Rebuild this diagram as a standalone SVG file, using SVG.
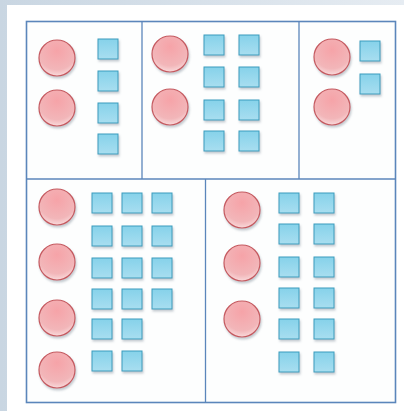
<svg xmlns="http://www.w3.org/2000/svg" width="404" height="411" viewBox="0 0 404 411">
<defs>
<linearGradient id="bg" x1="0" y1="0" x2="1" y2="0">
<stop offset="0" stop-color="#c9d6e2"/><stop offset="1" stop-color="#e6ecf2"/>
</linearGradient>
<radialGradient id="cg" cx="0.5" cy="0.3" r="0.75">
<stop offset="0" stop-color="#f6a3a8"/><stop offset="0.7" stop-color="#f2b6b9"/><stop offset="1" stop-color="#fbe4e5"/>
</radialGradient>
<linearGradient id="sg" x1="0" y1="0" x2="0" y2="1">
<stop offset="0" stop-color="#86d2ea"/><stop offset="1" stop-color="#a8def0"/>
</linearGradient>
<filter id="sh" x="-30%" y="-30%" width="170%" height="170%">
<feDropShadow dx="1" dy="2" stdDeviation="1.2" flood-color="#7a8a96" flood-opacity="0.45"/>
</filter>
</defs>
<style>
.c{fill:url(#cg);stroke:#c55a60;stroke-width:1.2;filter:url(#sh)}
.s{fill:url(#sg);stroke:#3b9cbd;stroke-width:1;filter:url(#sh)}
.frame{fill:#fdfefe;stroke:#5b86bb;stroke-width:1.6}
.div{stroke:#5b86bb;stroke-width:1.3;fill:none}
</style>
<rect x="0" y="0" width="404" height="411" fill="url(#bg)"/>
<rect x="7" y="5" width="397" height="406" fill="#ffffff"/>
<rect class="frame" x="26.5" y="21.5" width="369" height="381"/>
<g id="connectors">
<line class="div" x1="26.5" y1="179" x2="395.5" y2="179"/>
<line class="div" x1="142" y1="21.5" x2="142" y2="179"/>
<line class="div" x1="299" y1="21.5" x2="299" y2="179"/>
<line class="div" x1="205.5" y1="179" x2="205.5" y2="402.5"/>
</g>
<g id="cell1">
<circle class="c" cx="57" cy="58" r="18"/>
<circle class="c" cx="57" cy="108" r="18"/>
<rect class="s" x="98" y="39" width="20" height="20"/>
<rect class="s" x="98" y="71" width="20" height="20"/>
<rect class="s" x="98" y="103" width="20" height="20"/>
<rect class="s" x="98" y="134" width="20" height="20"/>
</g>
<g id="cell2">
<circle class="c" cx="170" cy="54" r="18"/>
<circle class="c" cx="170" cy="107" r="18"/>
<rect class="s" x="204" y="35" width="20" height="20"/>
<rect class="s" x="239" y="35" width="20" height="20"/>
<rect class="s" x="204" y="67" width="20" height="20"/>
<rect class="s" x="239" y="67" width="20" height="20"/>
<rect class="s" x="204" y="100" width="20" height="20"/>
<rect class="s" x="239" y="100" width="20" height="20"/>
<rect class="s" x="204" y="131" width="20" height="20"/>
<rect class="s" x="239" y="131" width="20" height="20"/>
</g>
<g id="cell3">
<circle class="c" cx="332" cy="57" r="18"/>
<circle class="c" cx="332" cy="107" r="18"/>
<rect class="s" x="360" y="41" width="20" height="20"/>
<rect class="s" x="360" y="74" width="20" height="20"/>
</g>
<g id="cell4">
<circle class="c" cx="57" cy="207" r="18"/>
<circle class="c" cx="57" cy="262" r="18"/>
<circle class="c" cx="57" cy="318" r="18"/>
<circle class="c" cx="57" cy="370" r="18"/>
<rect class="s" x="92" y="193" width="20" height="20"/>
<rect class="s" x="122" y="193" width="20" height="20"/>
<rect class="s" x="152" y="193" width="20" height="20"/>
<rect class="s" x="92" y="226" width="20" height="20"/>
<rect class="s" x="122" y="226" width="20" height="20"/>
<rect class="s" x="152" y="226" width="20" height="20"/>
<rect class="s" x="92" y="258" width="20" height="20"/>
<rect class="s" x="122" y="258" width="20" height="20"/>
<rect class="s" x="152" y="258" width="20" height="20"/>
<rect class="s" x="92" y="289" width="20" height="20"/>
<rect class="s" x="122" y="289" width="20" height="20"/>
<rect class="s" x="152" y="289" width="20" height="20"/>
<rect class="s" x="92" y="319" width="20" height="20"/>
<rect class="s" x="122" y="319" width="20" height="20"/>
<rect class="s" x="92" y="351" width="20" height="20"/>
<rect class="s" x="122" y="351" width="20" height="20"/>
</g>
<g id="cell5">
<circle class="c" cx="242" cy="210" r="18"/>
<circle class="c" cx="242" cy="263" r="18"/>
<circle class="c" cx="242" cy="319" r="18"/>
<rect class="s" x="279" y="193" width="20" height="20"/>
<rect class="s" x="314" y="193" width="20" height="20"/>
<rect class="s" x="279" y="224" width="20" height="20"/>
<rect class="s" x="314" y="224" width="20" height="20"/>
<rect class="s" x="279" y="257" width="20" height="20"/>
<rect class="s" x="314" y="257" width="20" height="20"/>
<rect class="s" x="279" y="288" width="20" height="20"/>
<rect class="s" x="314" y="288" width="20" height="20"/>
<rect class="s" x="279" y="319" width="20" height="20"/>
<rect class="s" x="314" y="319" width="20" height="20"/>
<rect class="s" x="279" y="352" width="20" height="20"/>
<rect class="s" x="314" y="352" width="20" height="20"/>
</g>
</svg>
